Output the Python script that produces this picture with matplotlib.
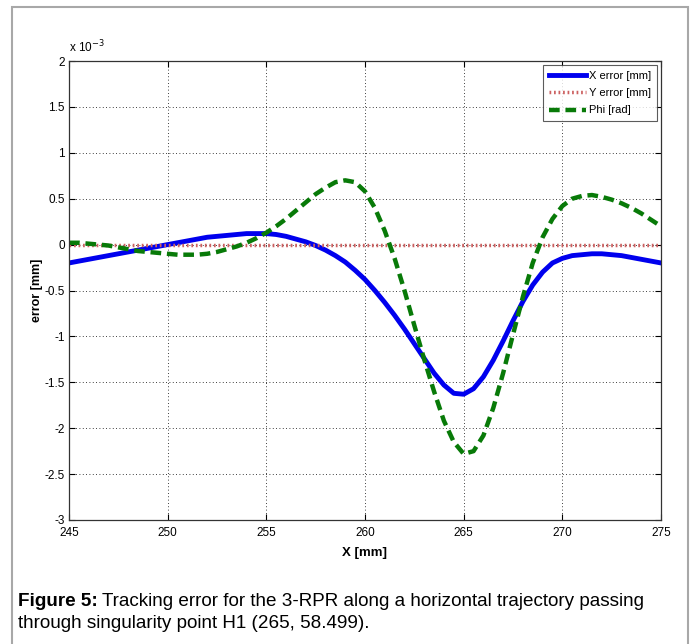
import matplotlib
matplotlib.use("Agg")
import matplotlib.pyplot as plt
from matplotlib.patches import Rectangle

# position along the horizontal trajectory [mm]
x_pos = [245.0, 245.5, 246.0, 246.5, 247.0, 247.5, 248.0, 248.5, 249.0, 249.5,
         250.0, 250.5, 251.0, 251.5, 252.0, 252.5, 253.0, 253.5, 254.0, 254.5,
         255.0, 255.5, 256.0, 256.5, 257.0, 257.5, 258.0, 258.5, 259.0, 259.5,
         260.0, 260.5, 261.0, 261.5, 262.0, 262.5, 263.0, 263.5, 264.0, 264.5,
         265.0, 265.5, 266.0, 266.5, 267.0, 267.5, 268.0, 268.5, 269.0, 269.5,
         270.0, 270.5, 271.0, 271.5, 272.0, 272.5, 273.0, 273.5, 274.0, 274.5,
         275.0]

# errors in units of 1e-3
x_error = [-0.20, -0.18, -0.16, -0.14, -0.12, -0.10, -0.08, -0.06, -0.04, -0.02,
           0.00, 0.02, 0.04, 0.06, 0.08, 0.09, 0.10, 0.11, 0.12, 0.12,
           0.12, 0.11, 0.09, 0.06, 0.03, -0.01, -0.06, -0.12, -0.19, -0.28,
           -0.38, -0.50, -0.63, -0.77, -0.92, -1.08, -1.24, -1.40, -1.53, -1.62,
           -1.63, -1.57, -1.44, -1.26, -1.05, -0.83, -0.62, -0.44, -0.30, -0.20,
           -0.15, -0.12, -0.11, -0.10, -0.10, -0.11, -0.12, -0.14, -0.16, -0.18,
           -0.20]

y_error = [0.0] * len(x_pos)

phi_error = [0.02, 0.02, 0.01, 0.00, -0.01, -0.03, -0.05, -0.07, -0.08, -0.09,
             -0.10, -0.11, -0.11, -0.11, -0.10, -0.08, -0.05, -0.02, 0.02, 0.07,
             0.13, 0.20, 0.28, 0.37, 0.46, 0.55, 0.62, 0.68, 0.70, 0.68,
             0.58, 0.40, 0.15, -0.15, -0.50, -0.88, -1.25, -1.60, -1.92, -2.15,
             -2.28, -2.25, -2.08, -1.78, -1.40, -0.98, -0.57, -0.20, 0.08, 0.28,
             0.42, 0.50, 0.53, 0.54, 0.52, 0.49, 0.45, 0.40, 0.34, 0.27,
             0.20]

x_ticks = [245, 250, 255, 260, 265, 270, 275]
y_ticks = [-3, -2.5, -2, -1.5, -1, -0.5, 0, 0.5, 1, 1.5, 2]
y_ticklabels = ["-3", "-2.5", "-2", "-1.5", "-1", "-0.5", "0", "0.5", "1", "1.5", "2"]

plt.rcParams["font.family"] = ["Liberation Sans", "DejaVu Sans"]

W, H = 696, 644
fig = plt.figure(figsize=(W / 100, H / 100), dpi=100)

# outer gray frame (open at the bottom, like the cropped page)
fig.patches.append(Rectangle((12 / W, -0.05), (688 - 12) / W, 1.05 - 7 / H,
                             transform=fig.transFigure, fill=False,
                             edgecolor="#a8a8a8", linewidth=1.5))

left, right, top, bottom = 69, 661, 61, 520
ax = fig.add_axes([left / W, 1 - bottom / H, (right - left) / W, (bottom - top) / H])

ax.plot(x_pos, x_error, color="#0000ee", linewidth=3.5, label="X error [mm]")
ax.plot(x_pos, y_error, color="#cc6060", linewidth=2.5, linestyle=(0, (0.5, 0.8)),
        label="Y error [mm]")
ax.plot(x_pos, phi_error, color="#087a08", linewidth=3.2, linestyle=(0, (2.4, 1.3)),
        label="Phi [rad]")

ax.set_xlim(245, 275)
ax.set_ylim(-3, 2)
ax.set_xticks(x_ticks)
ax.set_yticks(y_ticks)
ax.set_yticklabels(y_ticklabels)
ax.tick_params(direction="in", top=True, right=True, length=4, width=0.8,
               labelsize=8.5, pad=3)
ax.tick_params(axis="x", pad=5)
ax.grid(True, color="black", linestyle=(0, (1, 3)), linewidth=0.6)
for s in ax.spines.values():
    s.set_color("#333333")
    s.set_linewidth(0.9)

ax.set_xlabel("X [mm]", fontsize=9.5, fontweight="bold", labelpad=6)
ax.set_ylabel("error [mm]", fontsize=9, fontweight="bold", labelpad=1)
ax.text(0.0, 1.012, r"x 10$^{-3}$", transform=ax.transAxes, fontsize=8.5,
        ha="left", va="bottom")

leg = ax.legend(loc="upper right", fontsize=8, frameon=True, fancybox=False,
                handlelength=3.3, handletextpad=0.3, borderpad=0.5,
                labelspacing=0.65, borderaxespad=0.4)
leg.get_frame().set_edgecolor("#333333")
leg.get_frame().set_linewidth(0.8)

# caption
cap_font = dict(fontsize=13.6, va="center")
r = fig.canvas.get_renderer()
t1 = fig.text(18 / W, 1 - 602 / H, "Figure 5:", fontweight="bold", **cap_font)
bb = t1.get_window_extent(renderer=r)
fig.text(bb.x1 / W + 4 / W, 1 - 602 / H,
         "Tracking error for the 3-RPR along a horizontal trajectory passing",
         **cap_font)
fig.text(18 / W, 1 - 623 / H, "through singularity point H1 (265, 58.499).",
         **cap_font)

fig.savefig("out.png", dpi=100)
